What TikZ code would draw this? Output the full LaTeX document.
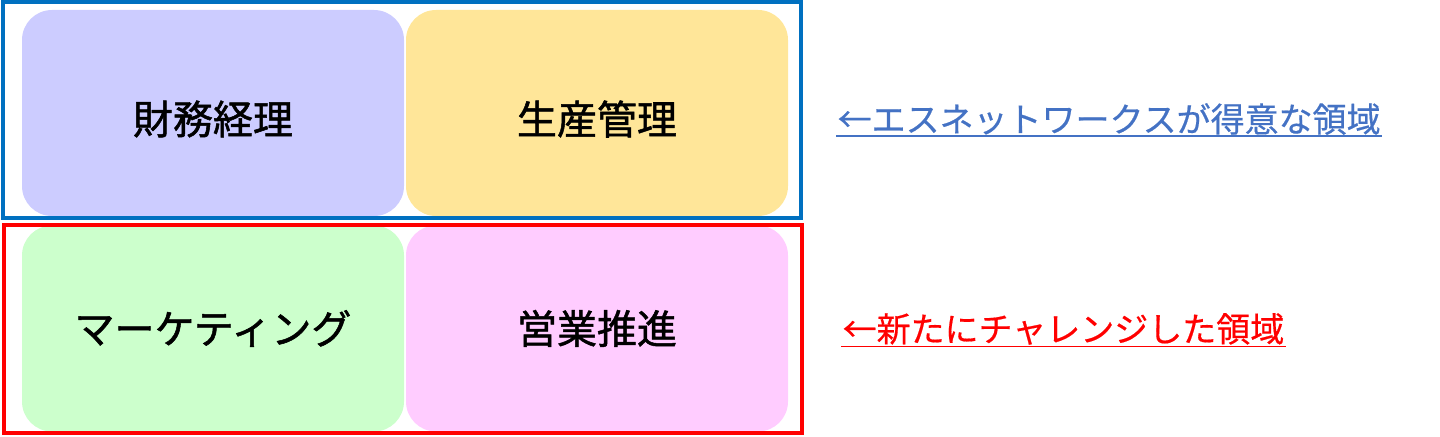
\documentclass[tikz,border=0pt]{standalone}
\usepackage{fontspec}
\newfontfamily\jp[FakeBold=1.3]{Noto Sans CJK JP}
\newfontfamily\jpnote[FakeBold=0.5]{Noto Sans CJK JP}
\definecolor{frameblue}{HTML}{0070C0}
\definecolor{noteblue}{HTML}{4472C4}
\definecolor{boxpurple}{HTML}{CCCCFF}
\definecolor{boxyellow}{HTML}{FFE699}
\definecolor{boxgreen}{HTML}{CCFFCC}
\definecolor{boxpink}{HTML}{FFCCFF}
\tikzset{
    areabox/.style={rounded corners=15pt, inner sep=0pt, minimum width=191pt,
        minimum height=103pt},
    areatext/.style={font=\jp\fontsize{20pt}{24pt}\selectfont},
    note/.style={anchor=west, inner sep=0.6pt, font=\jpnote\fontsize{17pt}{20pt}\selectfont}
}
\begin{document}
\begin{tikzpicture}[x=0.5pt, y=-0.5pt]
    % Canvas
    \useasboundingbox (0,0) rectangle (1440,437);

    % Four areas
    \foreach \name/\x/\y/\dy/\col/\txt in {fin/213/113/-3/boxpurple/財務経理, prod/597/113/-3/boxyellow/生産管理,
        mkt/213/328.5/0/boxgreen/マーケティング, sales/597/328.5/0/boxpink/営業推進} {
        \node[areabox, fill=\col] (\name) at (\x,\y) {};
        \node[areatext, yshift=\dy pt] (\name-text) at (\name.center) {\txt};
    }

    % Group frames
    \draw[frameblue, line width=2pt] (2.5,2.5) rectangle (801,218);
    \draw[red, line width=2pt] (3.5,225.5) rectangle (802,433);

    % Notes
    \node[note, text=noteblue] (strong) at (836,119) {←エスネットワークスが得意な領域};
    \draw[noteblue, line width=0.9pt] (strong.south west) -- (strong.south east);
    \node[note, text=red] (challenge) at (841,329) {←新たにチャレンジした領域};
    \draw[red, line width=0.9pt] (challenge.south west) -- (challenge.south east);
\end{tikzpicture}
\end{document}
